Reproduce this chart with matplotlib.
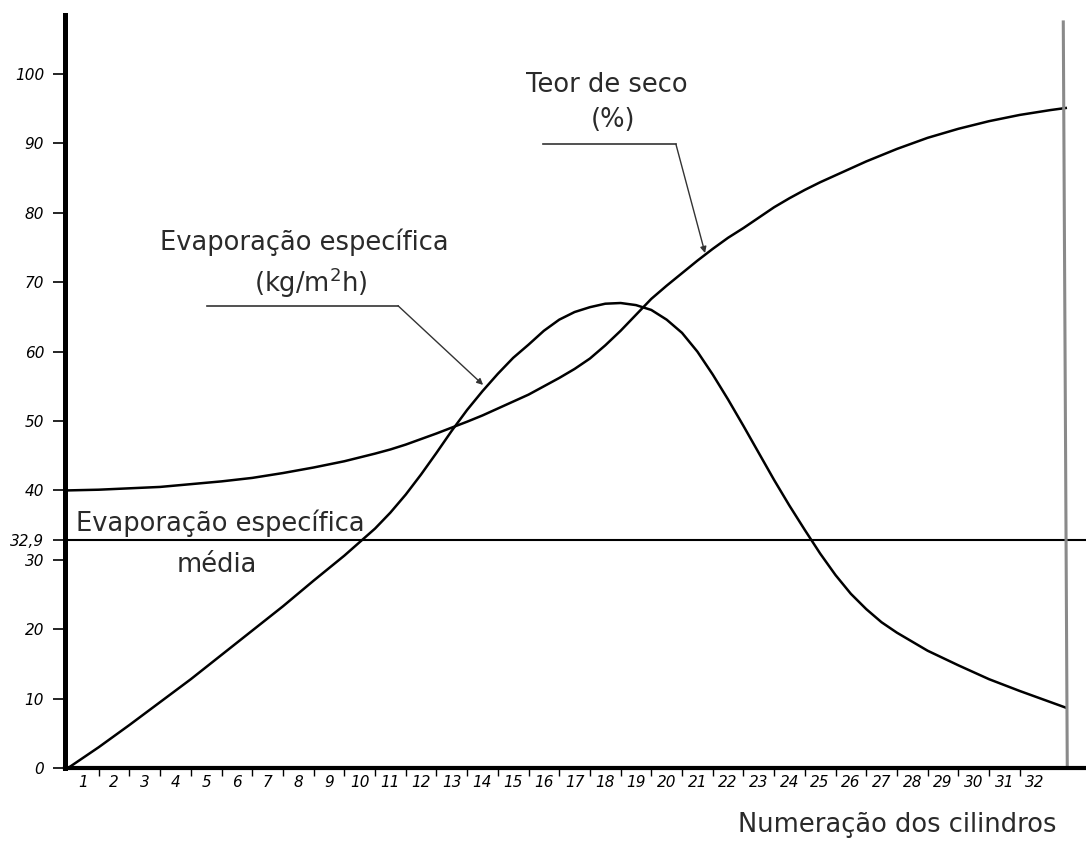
import matplotlib
matplotlib.use("Agg")
import matplotlib.pyplot as plt

# cylinder positions (x) and values
x_teor = [0, 1, 2, 3, 4, 5, 6, 7, 8, 9, 10, 10.5, 11, 11.5, 12, 12.5, 13, 13.5,
          14, 14.5, 15, 15.5, 16, 16.5, 17, 17.5, 18, 18.5, 19, 19.5, 20, 20.5,
          21, 21.5, 22, 22.5, 23, 23.5, 24, 24.5, 25, 25.5, 26, 26.5, 27, 28,
          29, 30, 31, 32, 32.5]
teor_seco = [40.0, 40.1, 40.3, 40.5, 40.9, 41.3, 41.8, 42.5, 43.3, 44.2, 45.3,
             45.9, 46.6, 47.4, 48.2, 49.05, 49.9, 50.8, 51.8, 52.8, 53.8, 55.0,
             56.2, 57.5, 59.0, 60.9, 63.0, 65.3, 67.6, 69.5, 71.3, 73.1, 74.8,
             76.4, 77.8, 79.3, 80.8, 82.1, 83.3, 84.4, 85.4, 86.4, 87.4, 88.3,
             89.2, 90.8, 92.1, 93.2, 94.1, 94.8, 95.1]

x_evap = [0, 1, 2, 3, 4, 5, 6, 7, 8, 9, 10, 10.5, 11, 11.5, 12, 12.5, 13, 13.5,
          14, 14.5, 15, 15.5, 16, 16.5, 17, 17.5, 18, 18.5, 19, 19.5, 20, 20.5,
          21, 21.5, 22, 22.5, 23, 23.5, 24, 24.5, 25, 25.5, 26, 26.5, 27, 28,
          29, 30, 31, 32, 32.5]
evap_espec = [0.0, 3.0, 6.2, 9.5, 12.8, 16.3, 19.8, 23.3, 27.0, 30.6, 34.5,
              36.8, 39.4, 42.3, 45.4, 48.6, 51.6, 54.3, 56.8, 59.1, 61.0, 63.0,
              64.6, 65.7, 66.4, 66.9, 67.0, 66.7, 66.0, 64.6, 62.7, 60.0, 56.7,
              53.1, 49.3, 45.4, 41.5, 37.8, 34.3, 30.9, 27.8, 25.1, 22.9, 21.0,
              19.5, 16.9, 14.8, 12.8, 11.1, 9.5, 8.7]
evap_media = 32.9

cilindros = list(range(1, 33))
y_ticks = [0, 10, 20, 30, 40, 50, 60, 70, 80, 90, 100, 32.9]
y_labels = ['0', '10', '20', '30', '40', '50', '60', '70', '80', '90', '100', '32,9']

txt_color = '#2a2a2a'
fs = 18.5
hand = dict(family=['Liberation Sans Narrow', 'DejaVu Sans'], style='italic', size=11)

fig = plt.figure(figsize=(10.86, 8.59), dpi=100)
ax = fig.add_axes([65 / 1086, 91 / 859, 1021 / 1086, 753 / 859])
ax.set_xlim(-0.1, 33.16)
ax.set_ylim(0, 108.5)

# axes look
for s in ['top', 'right']:
    ax.spines[s].set_visible(False)
ax.spines['left'].set_linewidth(3.6)
ax.spines['bottom'].set_linewidth(3.0)

ax.set_yticks(y_ticks)
ax.set_yticklabels(y_labels, **hand)
ax.tick_params(axis='y', length=9, width=1.2, pad=6, colors='k')

ax.set_xticks(cilindros[:-1])
ax.set_xticklabels([])
ax.tick_params(axis='x', which='major', length=6, width=1, direction='out')
ax.set_xticks([c - 0.5 for c in cilindros], minor=True)
ax.set_xticklabels([str(c) for c in cilindros], minor=True, **hand)
ax.tick_params(axis='x', which='minor', length=0, pad=5)

# curves
ax.plot(x_teor, teor_seco, color='k', lw=1.8)
ax.plot(x_evap, evap_espec, color='k', lw=1.8)
ax.axhline(evap_media, color='k', lw=1.5)
ax.plot([32.55, 32.42], [0, 107.5], color='#8a8a8a', lw=2.2)

# leaders
arr = dict(arrowstyle='-|>', color='#333333', lw=1.0, mutation_scale=9,
           shrinkA=0, shrinkB=0)
ax.plot([15.47, 19.8], [89.9, 89.9], color='#333333', lw=1.2)
ax.annotate('', xy=(20.75, 74.2), xytext=(19.8, 89.9), arrowprops=arr)
ax.plot([4.53, 10.75], [66.6, 66.6], color='#333333', lw=1.2)
ax.annotate('', xy=(13.52, 55.2), xytext=(10.75, 66.6), arrowprops=arr)

# labels
ax.text(17.56, 98.4, 'Teor de seco', ha='center', va='center', fontsize=fs, color=txt_color)
ax.text(17.75, 93.4, '(%)', ha='center', va='center', fontsize=fs, color=txt_color)
ax.text(7.69, 75.8, 'Evaporação específica', ha='center', va='center', fontsize=fs, color=txt_color)
ax.text(7.92, 69.9, r'(kg/m$^{2}$h)', ha='center', va='center', fontsize=fs, color=txt_color)
ax.text(4.95, 35.3, 'Evaporação específica', ha='center', va='center', fontsize=fs, color=txt_color)
ax.text(4.85, 29.25, 'média', ha='center', va='center', fontsize=fs, color=txt_color)
fig.text(0.826, 0.0396, 'Numeração dos cilindros', ha='center', va='center',
         fontsize=fs, color=txt_color)

fig.savefig('out.png', dpi=100)
plt.close(fig)
